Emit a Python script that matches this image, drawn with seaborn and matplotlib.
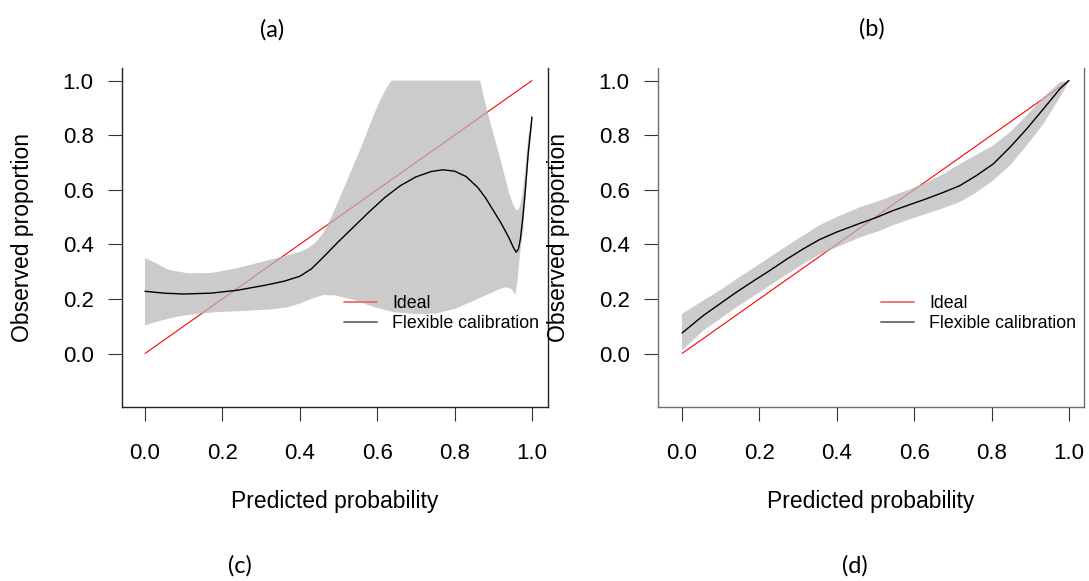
import matplotlib
matplotlib.use("Agg")
import matplotlib.pyplot as plt
from matplotlib.lines import Line2D
import numpy as np
import pandas as pd
import seaborn as sns

# ---- Panel A: flexible calibration curve with confidence band ----
a_curve_x = [0.0, 0.05, 0.10, 0.17, 0.24, 0.31, 0.36, 0.40, 0.43, 0.46, 0.50, 0.54,
             0.58, 0.62, 0.66, 0.70, 0.74, 0.77, 0.80, 0.83, 0.86, 0.88, 0.90, 0.92,
             0.94, 0.952, 0.959, 0.965, 0.970, 0.976, 0.982, 0.99, 1.0]
a_curve_y = [0.228, 0.221, 0.218, 0.221, 0.232, 0.250, 0.265, 0.283, 0.310, 0.352,
             0.410, 0.465, 0.520, 0.572, 0.615, 0.647, 0.667, 0.673, 0.668, 0.648,
             0.608, 0.570, 0.524, 0.478, 0.425, 0.388, 0.371, 0.383, 0.420, 0.495,
             0.585, 0.730, 0.866]
a_upper_x = [0.0, 0.03, 0.06, 0.11, 0.17, 0.23, 0.30, 0.37, 0.40, 0.42, 0.44, 0.46,
             0.48, 0.50, 0.53, 0.56, 0.59, 0.61, 0.625, 0.637, 0.866, 0.878, 0.891,
             0.917, 0.939, 0.950, 0.958, 0.964, 0.969, 0.975, 0.982, 0.99, 1.0]
a_upper_y = [0.350, 0.330, 0.307, 0.294, 0.295, 0.310, 0.335, 0.360, 0.372, 0.385,
             0.405, 0.440, 0.495, 0.560, 0.660, 0.760, 0.870, 0.935, 0.975, 1.0, 1.0,
             0.925, 0.853, 0.719, 0.597, 0.550, 0.528, 0.525, 0.540, 0.580, 0.670,
             0.790, 0.884]
a_lower_x = [0.0, 0.04, 0.08, 0.13, 0.19, 0.26, 0.33, 0.37, 0.40, 0.43, 0.46, 0.49,
             0.54, 0.59, 0.64, 0.70, 0.75, 0.80, 0.86, 0.89, 0.92, 0.935, 0.948,
             0.957, 0.962, 0.969, 0.977, 0.982, 0.99, 1.0]
a_lower_y = [0.103, 0.120, 0.134, 0.145, 0.152, 0.156, 0.162, 0.170, 0.183, 0.200,
             0.214, 0.213, 0.196, 0.171, 0.152, 0.144, 0.146, 0.163, 0.200, 0.219,
             0.238, 0.243, 0.235, 0.215, 0.260, 0.366, 0.450, 0.549, 0.700, 0.829]

# ---- Panel B ----
b_curve_x = [0.0, 0.055, 0.10, 0.141, 0.185, 0.227, 0.27, 0.313, 0.355, 0.40, 0.46,
             0.50, 0.546, 0.59, 0.632, 0.675, 0.718, 0.761, 0.804, 0.848, 0.891,
             0.934, 0.977, 1.0]
b_curve_y = [0.075, 0.139, 0.184, 0.225, 0.266, 0.304, 0.345, 0.383, 0.417, 0.445,
             0.477, 0.497, 0.524, 0.546, 0.567, 0.590, 0.615, 0.652, 0.694, 0.756,
             0.823, 0.896, 0.970, 1.0]
b_upper_x = [0.0, 0.055, 0.10, 0.141, 0.185, 0.227, 0.27, 0.313, 0.355, 0.40, 0.46,
             0.512, 0.546, 0.59, 0.632, 0.675, 0.718, 0.761, 0.804, 0.848, 0.891,
             0.934, 0.977, 1.0]
b_upper_y = [0.145, 0.194, 0.233, 0.273, 0.313, 0.353, 0.393, 0.432, 0.470, 0.500,
             0.536, 0.560, 0.579, 0.602, 0.627, 0.657, 0.694, 0.728, 0.762, 0.811,
             0.872, 0.939, 0.994, 1.0]
b_lower_x = [0.0, 0.055, 0.10, 0.141, 0.185, 0.227, 0.27, 0.313, 0.355, 0.40, 0.46,
             0.512, 0.546, 0.59, 0.632, 0.675, 0.718, 0.761, 0.804, 0.848, 0.891,
             0.934, 0.977, 1.0]
b_lower_y = [0.011, 0.084, 0.128, 0.170, 0.210, 0.249, 0.289, 0.328, 0.362, 0.389,
             0.425, 0.450, 0.470, 0.492, 0.512, 0.532, 0.555, 0.590, 0.634, 0.689,
             0.762, 0.841, 0.939, 0.995]

ideal = [0.0, 1.0]
tick_vals = [0.0, 0.2, 0.4, 0.6, 0.8, 1.0]
tick_labels = ["0.0", "0.2", "0.4", "0.6", "0.8", "1.0"]
legend_labels = ["Ideal", "Flexible calibration"]
panel_tags_top = ["(a)", "(b)"]
panel_tags_bottom = ["(c)", "(d)"]

sns.set_style("white")
plt.rcParams["font.family"] = ["Liberation Sans", "DejaVu Sans"]
plt.rcParams["text.color"] = "black"
plt.rcParams["axes.labelcolor"] = "black"
plt.rcParams["xtick.color"] = "black"
plt.rcParams["ytick.color"] = "black"

W, H = 1089, 581
fig = plt.figure(figsize=(W / 100, H / 100), dpi=100)


def px_axes(left, right, top, bottom):
    return fig.add_axes([left / W, 1 - bottom / H, (right - left) / W, (bottom - top) / H])


def draw_panel(ax, cx, cy, ux, uy, lx, ly, xlim, spine_col):
    sns.lineplot(x=ideal, y=ideal, ax=ax, color="#ff0000", linewidth=0.8,
                 estimator=None, sort=False, legend=False)
    band_x = list(ux) + list(lx)[::-1]
    band_y = list(uy) + list(ly)[::-1]
    ax.fill(band_x, band_y, color="#b8b8b8", alpha=0.72, linewidth=0, zorder=3)
    curve = pd.DataFrame({"x": cx, "y": cy})
    sns.lineplot(data=curve, x="x", y="y", ax=ax, color="black", linewidth=1.0,
                 estimator=None, sort=False, legend=False, zorder=4)
    ax.set_xlim(*xlim)
    ax.set_ylim(-0.196, 1.046)
    ax.set_xticks(tick_vals)
    ax.set_xticklabels(tick_labels)
    ax.set_yticks(tick_vals)
    ax.set_yticklabels(tick_labels)
    for s in ["left", "bottom", "right"]:
        ax.spines[s].set_visible(True)
        ax.spines[s].set_color(spine_col)
        ax.spines[s].set_linewidth(1.0)
    ax.spines["top"].set_visible(False)
    ax.tick_params(axis="x", direction="out", length=10, width=0.8, color="#333333",
                   pad=16, labelsize=16, bottom=True)
    ax.tick_params(axis="y", direction="out", length=10, width=0.8, color="#333333",
                   pad=10.5, labelsize=16, left=True)
    ax.set_xlabel("Predicted probability", fontsize=16.5)
    ax.set_ylabel("Observed proportion", fontsize=16.5)
    ax.xaxis.set_label_coords(0.5, -0.245)
    ax.yaxis.set_label_coords(-0.207, 0.5)
    handles = [Line2D([0], [0], color="#f06a6a", linewidth=1.3),
               Line2D([0], [0], color="#6a6a6a", linewidth=1.3)]
    ax.legend(handles, legend_labels, loc="center left", bbox_to_anchor=(0.492, 0.146),
              bbox_transform=ax.transData, frameon=False, fontsize=12.8,
              handlelength=1.85, handletextpad=0.85, borderpad=0, labelspacing=0.2)


ax_a = px_axes(122, 548, 68, 407)
draw_panel(ax_a, a_curve_x, a_curve_y, a_upper_x, a_upper_y, a_lower_x, a_lower_y,
           (-0.0594, 1.0413), "#222222")

ax_b = px_axes(658, 1084, 68, 407)
draw_panel(ax_b, b_curve_x, b_curve_y, b_upper_x, b_upper_y, b_lower_x, b_lower_y,
           (-0.062, 1.039), "#6f6f6f")

tag_font = ["Lato", "DejaVu Sans"]
for tag, (x, y) in zip(panel_tags_top, [(272, 30), (872, 29)]):
    fig.text(x / W, 1 - y / H, tag, ha="center", va="center", fontsize=17, family=tag_font)
for tag, (x, y) in zip(panel_tags_bottom, [(240, 566), (855, 566)]):
    fig.text(x / W, 1 - y / H, tag, ha="center", va="center", fontsize=17, family=tag_font)

fig.savefig("out.png", dpi=100)
